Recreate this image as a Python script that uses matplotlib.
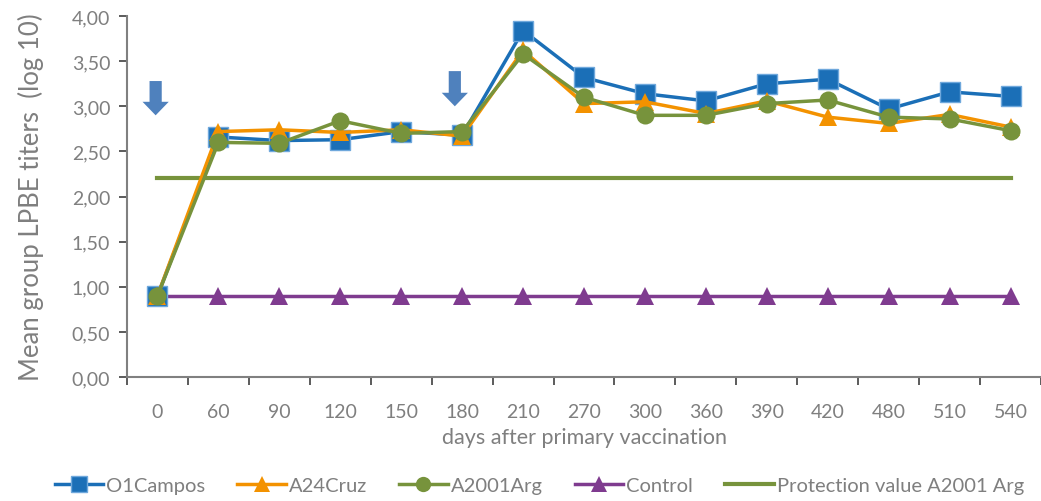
import matplotlib
matplotlib.use("Agg")
import matplotlib.pyplot as plt
from matplotlib.patches import FancyArrow
from matplotlib.ticker import FuncFormatter, FixedLocator
from matplotlib.lines import Line2D

days = ["0", "60", "90", "120", "150", "180", "210", "270", "300",
        "360", "390", "420", "480", "510", "540"]

o1campos = [0.90, 2.66, 2.62, 2.63, 2.72, 2.68, 3.84, 3.32, 3.14,
            3.06, 3.25, 3.30, 2.97, 3.16, 3.11]
a24cruz = [0.90, 2.72, 2.74, 2.71, 2.74, 2.67, 3.62, 3.03, 3.05,
           2.92, 3.06, 2.88, 2.81, 2.91, 2.77]
a2001arg = [0.90, 2.60, 2.59, 2.84, 2.70, 2.72, 3.58, 3.10, 2.90,
            2.90, 3.03, 3.07, 2.88, 2.86, 2.73]
control = [0.90] * len(days)
protection = [2.20] * len(days)

# vaccination doses (category index of each arrow)
dose_positions = [-0.03, 4.88]
dose_tops = [3.28, 3.39]
dose_lengths = [0.38, 0.39]

BLUE = "#1b6fb7"
ORANGE = "#f39200"
GREEN = "#77933c"
PURPLE = "#7f3b8f"
ARROW = "#4f81bd"
GREY = "#808080"
TEXT = "#7f7f7f"

plt.rcParams["font.family"] = ["Lato", "DejaVu Sans"]

fig = plt.figure(figsize=(10.41, 5.02), dpi=100)
ax = fig.add_axes([0.122, 0.247, 0.878, 0.719])

x = list(range(len(days)))

ax.plot(x, protection, color=GREEN, lw=3, zorder=2)
ax.plot(x, control, color=PURPLE, lw=2.5, marker="^", ms=13,
        markeredgewidth=0, zorder=3)
ax.plot(x, o1campos, color=BLUE, lw=2.5, marker="s", ms=14,
        markeredgecolor="#6fa8dc", markeredgewidth=1, zorder=4)
ax.plot(x, a24cruz, color=ORANGE, lw=2.5, marker="^", ms=13,
        markeredgewidth=0, zorder=5)
ax.plot(x, a2001arg, color=GREEN, lw=2.5, marker="o", ms=13,
        markeredgewidth=0, zorder=6)

for xp, top, length in zip(dose_positions, dose_tops, dose_lengths):
    ax.add_patch(FancyArrow(xp, top, 0, -length, width=0.2,
                            head_width=0.43, head_length=0.15,
                            length_includes_head=True, color=ARROW,
                            lw=0, zorder=7))

ax.set_xlim(-0.5, len(days) - 0.5)
ax.set_ylim(0, 4)
ax.set_xticks(x)
ax.set_xticklabels(days)
ax.xaxis.set_minor_locator(FixedLocator([i - 0.5 for i in range(len(days) + 1)]))
ax.tick_params(axis="x", which="major", length=0, pad=19,
               labelsize=14, labelcolor=TEXT)
ax.tick_params(axis="x", which="minor", length=6, width=1.2, color="#404040")
ax.set_yticks([i * 0.5 for i in range(9)])
ax.yaxis.set_major_formatter(FuncFormatter(lambda v, p: f"{v:.2f}".replace(".", ",")))
ax.tick_params(axis="y", length=6, width=1.2, color="#404040", pad=6,
               labelsize=14, labelcolor=TEXT)

for side in ("top", "right"):
    ax.spines[side].set_visible(False)
for side in ("left", "bottom"):
    ax.spines[side].set_color(GREY)
    ax.spines[side].set_linewidth(1.5)

ax.set_xlabel("days after primary vaccination", fontsize=15.5, color=TEXT,
              labelpad=5)
ax.set_ylabel("Mean group LPBE titers  (log 10)", fontsize=18.5, color=TEXT,
              labelpad=20)

handles = [
    Line2D([], [], color=BLUE, lw=2.5, marker="s", ms=12,
           markeredgecolor="#6fa8dc", markeredgewidth=1),
    Line2D([], [], color=ORANGE, lw=2.5, marker="^", ms=11, markeredgewidth=0),
    Line2D([], [], color=GREEN, lw=2.5, marker="o", ms=11, markeredgewidth=0),
    Line2D([], [], color=PURPLE, lw=2.5, marker="^", ms=11, markeredgewidth=0),
    Line2D([], [], color=GREEN, lw=3),
]
labels = ["O1Campos", "A24Cruz", "A2001Arg", "Control",
          "Protection value A2001 Arg"]
leg = fig.legend(handles, labels, loc="center", bbox_to_anchor=(0.518, 0.03),
                 ncol=5, frameon=False, fontsize=14.5, handlelength=2.4,
                 handletextpad=0.15, columnspacing=1.6)
for t in leg.get_texts():
    t.set_color(TEXT)

fig.savefig("out.png", dpi=100)
